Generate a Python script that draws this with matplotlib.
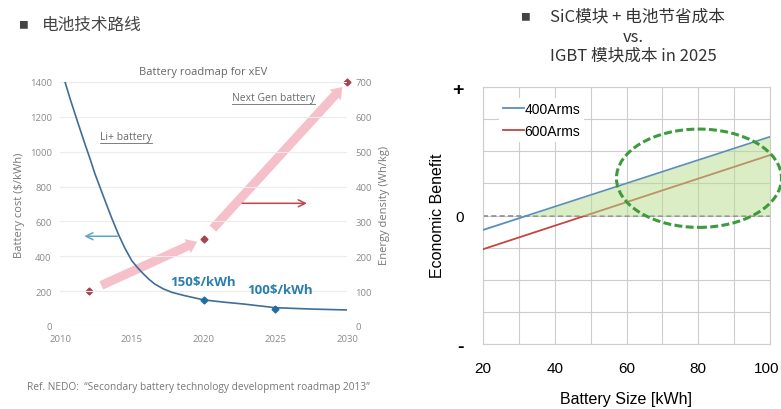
import numpy as np
import matplotlib
matplotlib.use('Agg')
import matplotlib.pyplot as plt
from matplotlib.patches import Ellipse
from matplotlib.lines import Line2D
from matplotlib.transforms import ScaledTranslation

plt.rcParams['font.family'] = ['Noto Sans CJK SC', 'DejaVu Sans']

# battery cost roadmap, $/kWh
cost_years = [2010.35, 2010.7, 2011.05, 2011.4, 2011.74, 2012.1, 2012.44, 2013.14, 2013.6,
              2014.06, 2014.5, 2015.0, 2015.4, 2015.8, 2016.2, 2016.6, 2017.2, 2017.8,
              2018.7, 2020.0, 2021.4, 2022.8, 2025.0, 2027.6, 2030.0]
cost_values = [1400, 1305, 1216, 1128, 1044, 958, 872, 719, 620,
               528, 450, 375, 335, 300, 268, 241, 213, 193,
               174, 150, 137, 126, 105, 97, 92]
cost_marker_years = [2020, 2025]
cost_marker_values = [150, 100]
cost_marker_labels = ['150$/kWh', '100$/kWh']

# energy density milestones, Wh/kg
density_years = [2012, 2020, 2030]
density_values = [100, 250, 700]

# economic benefit vs battery size (straight lines)
battery_size = [20, 100]
benefit_400 = [-0.45, 2.45]
benefit_600 = [-1.05, 1.88]
series_labels = ['400Arms', '600Arms']

fig = plt.figure(figsize=(7.81, 4.10), dpi=100)
fig.patch.set_facecolor('white')

LFONT = ['Open Sans', 'DejaVu Sans']
AFONT = ['Liberation Sans', 'DejaVu Sans']
CJK = ['Noto Sans CJK SC', 'DejaVu Sans']

# ---------------- left: battery roadmap ----------------
ax = fig.add_axes([60 / 781, 83 / 410, 287 / 781, 244 / 410])
ax2 = ax.twinx()
ax.set_zorder(ax2.get_zorder() + 1)
ax.patch.set_visible(False)

ax.set_xlim(2010, 2030)
ax.set_ylim(0, 1400)
ax2.set_ylim(0, 700)
ax.set_xticks(range(2010, 2031, 5))
ax.set_yticks(range(0, 1401, 200))
ax2.set_yticks(range(0, 701, 100))
for a in (ax, ax2):
    for s in a.spines.values():
        s.set_visible(False)
    a.tick_params(length=0, labelsize=6.8, labelcolor='#8a8a8a', pad=6)
    for lbl in a.get_xticklabels() + a.get_yticklabels():
        lbl.set_family(LFONT)
ax.grid(axis='y', color='#ececec', lw=0.8)
ax.set_axisbelow(True)

ax.set_ylabel('Battery cost ($/kWh)', fontsize=8, color='#777777', family=LFONT, labelpad=3)
ax2.set_ylabel('Energy density (Wh/kg)', fontsize=8, color='#777777', family=LFONT, labelpad=5)
ax.set_title('Battery roadmap for xEV', fontsize=8, color='#666666', family=LFONT, pad=6)

# energy density arrows and milestones
for i in range(len(density_years) - 1):
    ax2.annotate('', xy=(density_years[i + 1], density_values[i + 1]),
                 xytext=(density_years[i], density_values[i]),
                 arrowprops=dict(arrowstyle='simple,head_length=0.75,head_width=1.1,tail_width=0.65',
                                 mutation_scale=10, fc='#f6c0cb', ec='none',
                                 shrinkA=10, shrinkB=5))
ax2.plot(density_years, density_values, 'D', color='#a8424f', ms=3.5, zorder=5, clip_on=False)

# cost curve
ax.plot(cost_years, cost_values, color='#3f6e96', lw=1.2, zorder=4)
ax.plot(cost_marker_years, cost_marker_values, 'D', color='#1f6e9e', ms=3.5, zorder=5)
ax.text(cost_marker_years[0], cost_marker_values[0] + 108, cost_marker_labels[0],
        ha='center', va='center', fontsize=9.5, fontweight='bold', color='#2a7db0', family=LFONT)
ax.text(cost_marker_years[1] + 0.3, cost_marker_values[1] + 112, cost_marker_labels[1],
        ha='center', va='center', fontsize=9.5, fontweight='bold', color='#2a7db0', family=LFONT)

# axis arrows
ax.annotate('', xy=(2011.5, 515), xytext=(2014.2, 515),
            arrowprops=dict(arrowstyle='->,head_length=0.5,head_width=0.25', color='#5aa6cc', lw=1.1))
ax2.annotate('', xy=(2027.4, 352), xytext=(2022.5, 352),
             arrowprops=dict(arrowstyle='->,head_length=0.5,head_width=0.25', color='#c3434d', lw=1.1))

t_li = ax.text(2012.8, 1090, 'Li+ battery', fontsize=7.5, color='#6a6a6a', family=LFONT,
               ha='left', va='center')
t_ng = ax2.text(2024.9, 655, 'Next Gen battery', fontsize=7.5, color='#6a6a6a', family=LFONT,
                ha='center', va='center')

fig.text(18 / 781, 1 - 25 / 410, '■', fontsize=7, color='#444444', family=CJK, va='center')
fig.text(42 / 781, 1 - 25 / 410, '电池技术路线', fontsize=12, color='#444444', family=CJK, va='center')
fig.text(27 / 781, 1 - 388 / 410,
         'Ref. NEDO:  \u201cSecondary battery technology development roadmap 2013\u201d',
         fontsize=7.3, color='#777777', family=LFONT, va='center')

# ---------------- right: economic benefit ----------------
bx = fig.add_axes([483 / 781, 65 / 410, 287 / 781, 257 / 410])
bx.set_xlim(20, 100)
bx.set_ylim(-4, 4)
bx.set_xticks(range(20, 101, 10))
bx.set_xticklabels([str(v) if v % 20 == 0 else '' for v in range(20, 101, 10)])
bx.set_yticks(range(-4, 5))
bx.set_yticklabels(['-', '', '', '', '0', '', '', '', '+'])
bx.tick_params(length=0, labelsize=11, pad=12)
bx.tick_params(axis='y', pad=14)
for lbl in bx.get_xticklabels() + bx.get_yticklabels():
    lbl.set_family(AFONT)
# keep the last x label inside the canvas
last = bx.get_xticklabels()[-1]
last.set_transform(last.get_transform() + ScaledTranslation(-3 / 100, 0, fig.dpi_scale_trans))
for lbl, t in zip(bx.get_yticklabels(), range(-4, 5)):
    if t != 0:
        lbl.set_fontweight('bold')
        lbl.set_fontsize(14)
bx.grid(color='#cdcdcd', lw=0.8)
bx.set_axisbelow(True)
for s in bx.spines.values():
    s.set_color('#cdcdcd')
    s.set_linewidth(0.8)

bx.axhline(0, color='#8c8c8c', lw=1.2, ls=(0, (3, 2)), zorder=2)
bx.plot(battery_size, benefit_400, color='#5a8ec2', lw=1.3, label=series_labels[0], zorder=3)
bx.plot(battery_size, benefit_600, color='#c4463f', lw=1.3, label=series_labels[1], zorder=3)

# shaded region where the 400Arms case pays off
slope = (benefit_400[1] - benefit_400[0]) / (battery_size[1] - battery_size[0])
x_zero = battery_size[0] - benefit_400[0] / slope
bx.fill_between([x_zero, battery_size[1]], [0, 0], [0, benefit_400[1]],
                color='#b8dc8c', alpha=0.5, lw=0, zorder=4)

bx.add_patch(Ellipse((80.2, 1.16), 46, 3.06, fill=False, ec='#3d9a3d', lw=2.2,
                     ls=(0, (2.6, 1.1)), clip_on=False, zorder=5))

leg = bx.legend(loc='upper left', bbox_to_anchor=(0.03, 0.985), frameon=True,
                facecolor='white', edgecolor='none', framealpha=1,
                handlelength=1.5, handletextpad=0.05, labelspacing=0.55, borderpad=0.3,
                prop={'family': AFONT, 'size': 10})
leg.set_zorder(6)

bx.set_xlabel('Battery Size [kWh]', fontsize=11.5, family=AFONT, labelpad=12)
fig.text(437 / 781, 1 - 216 / 410, 'Economic Benefit', rotation=90, fontsize=11.5,
         family=AFONT, ha='center', va='center')

fig.text(520 / 781, 1 - 17 / 410, '■', fontsize=7, color='#444444', family=CJK, va='center')
fig.text(637 / 781, 1 - 17 / 410, 'SiC模块 + 电池节省成本', fontsize=12, color='#333333',
         family=CJK, ha='center', va='center')
fig.text(633 / 781, 1 - 37 / 410, 'vs.', fontsize=12, color='#333333', family=CJK,
         ha='center', va='center')
fig.text(633 / 781, 1 - 56 / 410, 'IGBT 模块成本 in 2025', fontsize=12, color='#333333',
         family=CJK, ha='center', va='center')

# underline the two battery labels on the roadmap
fig.canvas.draw()
for t in (t_li, t_ng):
    bb = t.get_window_extent()
    y0 = bb.y0 - 1
    fig.add_artist(Line2D([bb.x0 / fig.bbox.width, bb.x1 / fig.bbox.width],
                          [y0 / fig.bbox.height, y0 / fig.bbox.height],
                          color='#6a6a6a', lw=0.6))

fig.savefig('out.png', dpi=100)
